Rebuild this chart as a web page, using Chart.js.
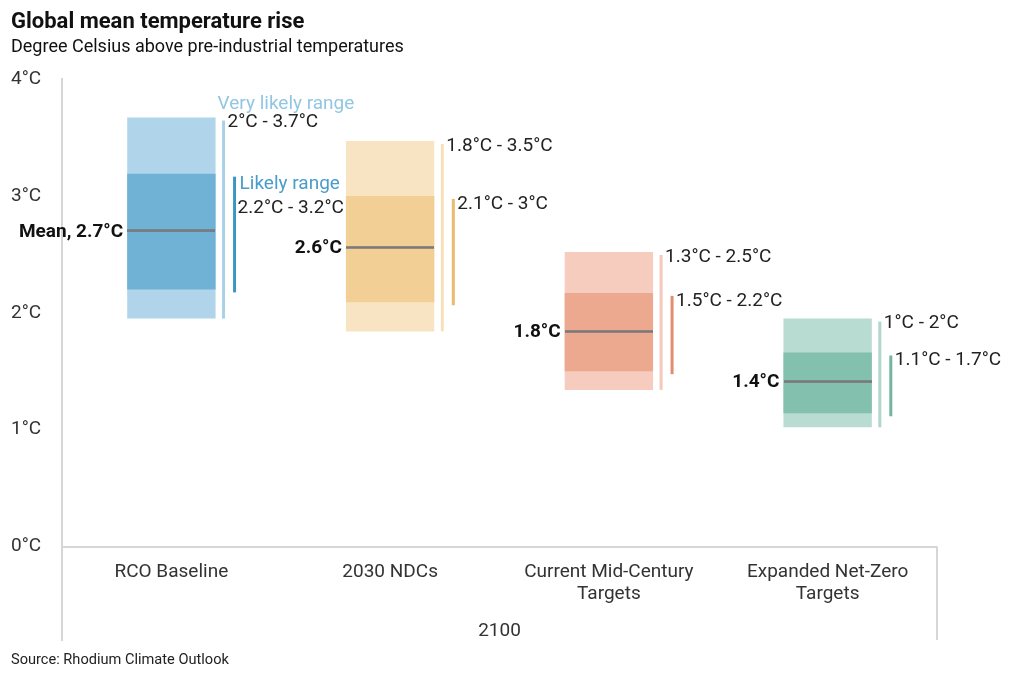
<!DOCTYPE html>
<html>
<head>
<meta charset="utf-8">
<script src="https://cdn.jsdelivr.net/npm/chart.js@4.4.1/dist/chart.umd.min.js"></script>
<style>
    html, body { margin: 0; padding: 0; background: #fff; }
    #wrap { position: relative; width: 1020px; height: 679px; }
    #chart { display: block; }
    #source { position: absolute; left: 11px; top: 650px; font: 14.6px Roboto; line-height: 18px; color: #222; }
</style>
</head>
<body>
<div id="wrap">
    <canvas id="chart" width="1020" height="679"></canvas>
    <div id="source">Source: Rhodium Climate Outlook</div>
</div>
<script>
// scenarios (2100)
const categories = [['RCO Baseline'], ['2030 NDCs'], ['Current Mid-Century', 'Targets'], ['Expanded Net-Zero', 'Targets']];
// degree C above pre-industrial
const veryLikelyLow = [1.95, 1.84, 1.34, 1.02];
const veryLikelyHigh = [3.67, 3.47, 2.52, 1.95];
const likelyLow = [2.2, 2.09, 1.5, 1.14];
const likelyHigh = [3.19, 3.0, 2.17, 1.66];
const meanValues = [2.7, 2.56, 1.84, 1.41];
const yTicks = [0, 1, 2, 3, 4];

// colours per scenario
const veryLikelyColors = ['#b0d5ea', '#f8e4c3', '#f6ccbe', '#b8dbd2'];
const likelyColors = ['#6fb2d6', '#f1cf95', '#eda890', '#84c0ae'];
const veryLikelyLineColors = ['#a9d1e8', '#f7e1ba', '#f3c9bc', '#b1d6cc'];
const likelyLineColors = ['#3d95c4', '#e9bb6e', '#e28c70', '#75b4a1'];

const AXIS_GREY = '#d6d6d6';
const TEXT = '#222';
const BAR_PCT = 0.404;

Chart.defaults.font.family = 'Roboto';

function fmt(v) {
    return (Math.round(v * 10) / 10) + '°C';
}

// mean marker: a flat grey dash as big as the box (small radius so it adds no layout padding)
const meanDash = document.createElement('canvas');
meanDash.width = 88;
meanDash.height = 3;
(function() {
    const c = meanDash.getContext('2d');
    c.fillStyle = '#777777';
    c.fillRect(0, 0.25, 88, 2.5);
})();

// range bars + labels next to each box
const rangePlugin = {
    id: 'ranges',
    afterDatasetsDraw(chart) {
        const ctx = chart.ctx;
        const y = chart.scales.y;
        const area = chart.chartArea;
        const bars = chart.getDatasetMeta(0).data;

        ctx.save();
        // right edge of the lower frame
        ctx.strokeStyle = AXIS_GREY;
        ctx.lineWidth = 2;
        ctx.beginPath();
        ctx.moveTo(area.right, y.getPixelForValue(0));
        ctx.lineTo(area.right, area.bottom);
        ctx.stroke();

        ctx.textBaseline = 'middle';
        bars.forEach((bar, i) => {
            const left = bar.x - bar.width / 2;
            const right = bar.x + bar.width / 2;
            const vlTop = y.getPixelForValue(veryLikelyHigh[i]);
            const vlBot = y.getPixelForValue(veryLikelyLow[i]);
            const lTop = y.getPixelForValue(likelyHigh[i]);
            const lBot = y.getPixelForValue(likelyLow[i]);

            ctx.fillStyle = veryLikelyLineColors[i];
            ctx.fillRect(right + 6.5, vlTop + 3, 3, vlBot - vlTop - 3);
            ctx.fillStyle = likelyLineColors[i];
            ctx.fillRect(right + 17.5, lTop + 3, 3, lBot - lTop);

            ctx.font = '19px Roboto';
            ctx.textAlign = 'left';
            ctx.fillStyle = TEXT;
            ctx.fillText(fmt(veryLikelyLow[i]) + ' - ' + fmt(veryLikelyHigh[i]), right + 12, vlTop + 5);

            if (i === 0) {
                ctx.fillStyle = '#93c6e2';
                ctx.fillText('Very likely range', right + 2, vlTop - 13);
                ctx.fillStyle = '#4a9ccb';
                ctx.fillText('Likely range', right + 24, lTop + 11);
                ctx.fillStyle = TEXT;
                ctx.fillText(fmt(likelyLow[i]) + ' - ' + fmt(likelyHigh[i]), right + 22, lTop + 35);
            } else {
                ctx.fillText(fmt(likelyLow[i]) + ' - ' + fmt(likelyHigh[i]), right + 23, lTop + 8);
            }

            ctx.font = 'bold 19px Roboto';
            ctx.textAlign = 'right';
            ctx.fillStyle = '#111';
            const m = (i === 0 ? 'Mean, ' : '') + fmt(meanValues[i]);
            ctx.fillText(m, left - 4, y.getPixelForValue(meanValues[i]) + 1);
        });
        ctx.restore();
    }
};

new Chart(document.getElementById('chart'), {
    type: 'bar',
    data: {
        labels: categories,
        datasets: [
            {
                label: 'Very likely range',
                data: categories.map((c, i) => [veryLikelyLow[i], veryLikelyHigh[i]]),
                backgroundColor: veryLikelyColors,
                grouped: false,
                order: 2,
                categoryPercentage: 1,
                barPercentage: BAR_PCT
            },
            {
                label: 'Likely range',
                data: categories.map((c, i) => [likelyLow[i], likelyHigh[i]]),
                backgroundColor: likelyColors,
                grouped: false,
                order: 1,
                categoryPercentage: 1,
                barPercentage: BAR_PCT
            },
            {
                type: 'line',
                label: 'Mean',
                data: meanValues,
                showLine: false,
                pointStyle: meanDash,
                pointRadius: 1,
                order: 0
            }
        ]
    },
    options: {
        responsive: false,
        animation: false,
        events: [],
        layout: { padding: { left: 11, right: 83, top: 0, bottom: 39 } },
        plugins: {
            legend: { display: false },
            tooltip: { enabled: false },
            title: {
                display: true,
                text: 'Global mean temperature rise',
                align: 'start',
                color: '#111',
                font: { size: 22, weight: 'bold' },
                padding: { top: 9, bottom: 0 }
            },
            subtitle: {
                display: true,
                text: 'Degree Celsius above pre-industrial temperatures',
                align: 'start',
                color: '#111',
                font: { size: 18 },
                padding: { top: 1, bottom: 21 }
            }
        },
        scales: {
            y: {
                min: -0.8,
                max: 4,
                afterBuildTicks: s => { s.ticks = yTicks.map(v => ({ value: v })); },
                afterFit: s => { s.width = 51; },
                ticks: {
                    callback: v => v + '°C',
                    crossAlign: 'far',
                    color: '#333',
                    font: { size: 19 }
                },
                grid: {
                    drawTicks: false,
                    lineWidth: 2,
                    color: c => (c.tick && c.tick.value === 0) ? AXIS_GREY : 'rgba(0,0,0,0)'
                },
                border: { display: true, color: AXIS_GREY, width: 2 }
            },
            x: {
                position: { y: 0 },
                grid: { display: false, drawTicks: false },
                border: { display: false },
                ticks: { color: '#333', font: { size: 19 }, padding: 14 },
                title: {
                    display: true,
                    text: '2100',
                    color: '#333',
                    font: { size: 19 },
                    padding: { top: 0, bottom: 0 }
                }
            }
        }
    },
    plugins: [rangePlugin]
});
</script>
</body>
</html>
